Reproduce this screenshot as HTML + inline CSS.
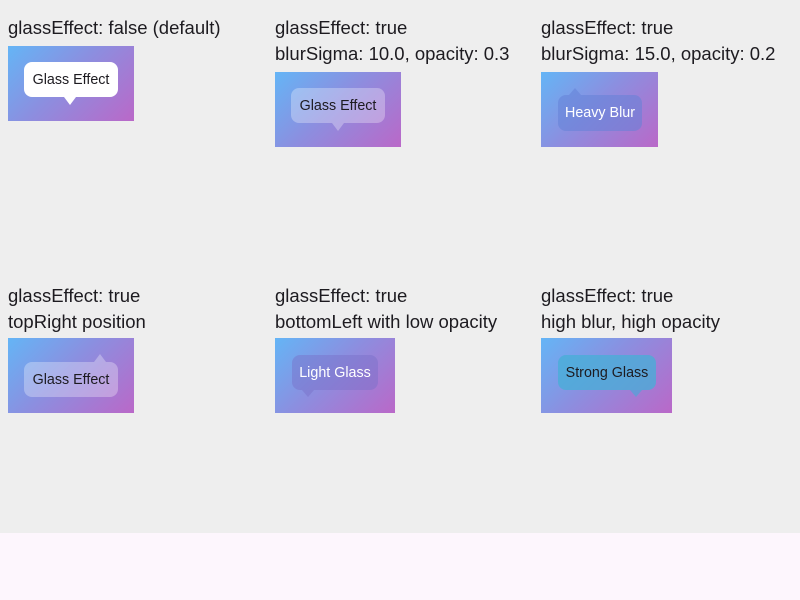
<!DOCTYPE html>
<html><head><style>
body{margin:0;width:800px;height:600px;background:#eeeeee;position:relative;overflow:hidden;font-family:"Liberation Sans",sans-serif;color:#1d1b20}
.bot{position:absolute;left:0;top:533px;width:800px;height:67px;background:#fdf6fd}
.lbl{position:absolute;font-size:18.5px;line-height:26px;white-space:nowrap}
.p{position:absolute;background:linear-gradient(135deg,#64b5f6,#8b8fe0 45%,#ba68c8);overflow:hidden}
.b{position:absolute;border-radius:8px;font-size:14.3px;display:flex;align-items:center;justify-content:center;white-space:nowrap}
.t{position:absolute;width:0;height:0;border-left:6px solid transparent;border-right:6px solid transparent}
</style></head><body>
<div class="bot"></div>

<div class="lbl" style="left:8px;top:15px">glassEffect: false (default)</div>
<div class="p" style="left:8px;top:46px;width:126px;height:75px">
 <div class="b" style="left:16px;top:16px;width:94px;height:35px;background:#fff">Glass Effect</div>
 <div class="t" style="left:56px;top:51px;border-top:8px solid #fff"></div>
</div>

<div class="lbl" style="left:275px;top:15px">glassEffect: true<br>blurSigma: 10.0, opacity: 0.3</div>
<div class="p" style="left:275px;top:72px;width:126px;height:75px">
 <div class="b" style="left:16px;top:16px;width:94px;height:35px;background:rgba(255,255,255,0.3)">Glass Effect</div>
 <div class="t" style="left:57px;top:51px;border-top:8px solid rgba(255,255,255,0.3)"></div>
</div>

<div class="lbl" style="left:541px;top:15px">glassEffect: true<br>blurSigma: 15.0, opacity: 0.2</div>
<div class="p" style="left:541px;top:72px;width:117px;height:75px">
 <div class="b" style="left:17px;top:23px;width:84px;height:36px;background:rgba(100,130,215,0.55);color:#fff">Heavy Blur</div>
 <div class="t" style="left:28px;top:16px;border-bottom:7px solid rgba(100,130,215,0.55)"></div>
</div>

<div class="lbl" style="left:8px;top:283px">glassEffect: true<br>topRight position</div>
<div class="p" style="left:8px;top:338px;width:126px;height:75px">
 <div class="b" style="left:16px;top:24px;width:94px;height:35px;background:rgba(255,255,255,0.3)">Glass Effect</div>
 <div class="t" style="left:86px;top:16px;border-bottom:8px solid rgba(255,255,255,0.3)"></div>
</div>

<div class="lbl" style="left:275px;top:283px">glassEffect: true<br>bottomLeft with low opacity</div>
<div class="p" style="left:275px;top:338px;width:120px;height:75px">
 <div class="b" style="left:17px;top:17px;width:86px;height:35px;background:rgba(120,110,200,0.45);color:#fff">Light Glass</div>
 <div class="t" style="left:27px;top:52px;border-top:7px solid rgba(120,110,200,0.45)"></div>
</div>

<div class="lbl" style="left:541px;top:283px">glassEffect: true<br>high blur, high opacity</div>
<div class="p" style="left:541px;top:338px;width:131px;height:75px">
 <div class="b" style="left:17px;top:17px;width:98px;height:35px;background:rgba(70,175,215,0.75)">Strong Glass</div>
 <div class="t" style="left:89px;top:52px;border-top:7px solid rgba(90,160,215,0.8)"></div>
</div>
</body></html>
